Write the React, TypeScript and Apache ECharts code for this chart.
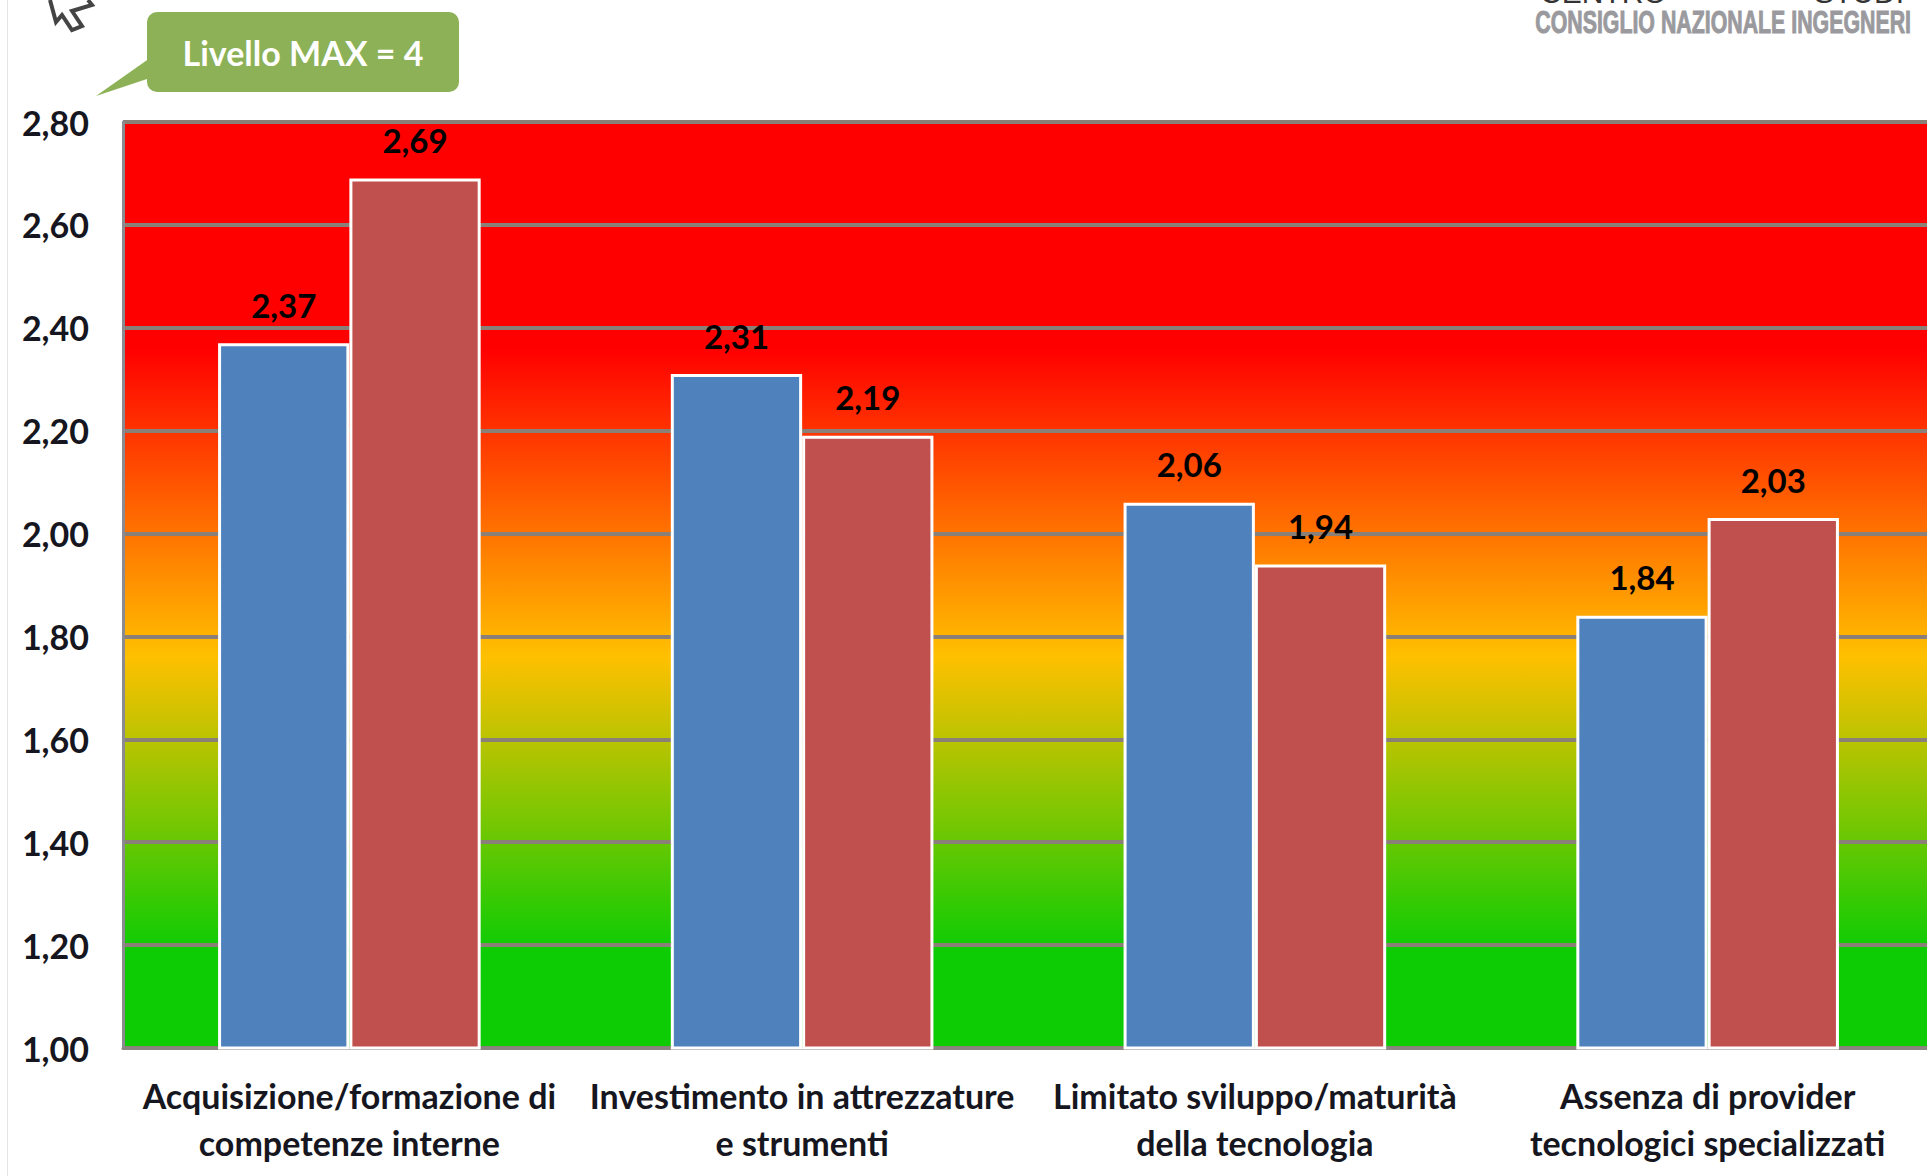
import React, { useEffect, useRef } from "react";
import * as echarts from "echarts";

const categories = [
  "Acquisizione/formazione di\ncompetenze interne",
  "Investimento in attrezzature\ne strumenti",
  "Limitato sviluppo/maturità\ndella tecnologia",
  "Assenza di provider\ntecnologici specializzati",
];
const seriesA = [2.37, 2.31, 2.06, 1.84];
const seriesB = [2.69, 2.19, 1.94, 2.03];
const FONT = "Lato, 'Noto Sans', sans-serif";
const fmt = (v: number) => v.toFixed(2).replace(".", ",");

export default function App() {
  const ref = useRef<HTMLDivElement>(null);
  useEffect(() => {
    document.body.style.margin = "0";
    document.body.style.overflow = "hidden";
    const chart = echarts.init(ref.current!, null, { renderer: "svg" });
    const label = {
      show: true,
      position: "top" as const,
      distance: 22,
      fontFamily: FONT,
      fontSize: 33,
      fontWeight: 700,
      color: "#000",
      formatter: (p: any) => fmt(p.value),
    };
    const barStyle = { borderColor: "#fff", borderWidth: 3 };
    chart.setOption({
      animation: false,
      backgroundColor: "#fff",
      grid: {
        show: true,
        left: 123,
        top: 122,
        right: 0,
        height: 926,
        borderWidth: 0,
        backgroundColor: new echarts.graphic.LinearGradient(0, 1, 0, 0, [
          { offset: 0, color: "#0ecc04" },
          { offset: 0.107, color: "#0ecc04" },
          { offset: 0.423, color: "#ffc000" },
          { offset: 0.755, color: "#ff0000" },
          { offset: 1, color: "#ff0000" },
        ]),
      },
      xAxis: {
        type: "category",
        data: categories,
        axisTick: { show: false },
        axisLine: { lineStyle: { color: "#8a8580", width: 3 } },
        axisLabel: {
          interval: 0,
          fontFamily: FONT,
          fontSize: 34,
          fontWeight: 700,
          color: "#161620",
          margin: 24,
          lineHeight: 47,
        },
      },
      yAxis: {
        type: "value",
        min: 1,
        max: 2.8,
        interval: 0.2,
        axisLine: { show: true, lineStyle: { color: "#8a8a90", width: 3 } },
        axisTick: { show: false },
        splitLine: { lineStyle: { color: "#8a8078", width: 4 } },
        axisLabel: {
          fontFamily: FONT,
          fontSize: 34,
          fontWeight: 700,
          color: "#161620",
          margin: 34,
          verticalAlignMinLabel: "middle",
          verticalAlignMaxLabel: "middle",
          formatter: (v: number) => fmt(v),
        },
      },
      series: [
        { type: "bar", name: "A", data: seriesA, barGap: 0, barCategoryGap: "42%",
          itemStyle: { color: "#4f81bd", ...barStyle }, label },
        { type: "bar", name: "B", data: seriesB,
          itemStyle: { color: "#c0504d", ...barStyle }, label },
      ],
      graphic: [
        { type: "rect", left: 7, top: 0, shape: { width: 1, height: 1176 }, style: { fill: "#e4e4e4" } },
        { type: "polyline", shape: { points: [[50, 0], [56, 22], [62, 15], [72, 30], [82, 26], [72, 11], [92, 5], [88, 0]] },
          style: { fill: "#fff", stroke: "#444", lineWidth: 4 } },
        { type: "polygon", shape: { points: [[96, 96], [150, 58], [150, 78]] }, style: { fill: "#8cb156" } },
        { type: "rect", shape: { x: 147, y: 12, width: 312, height: 80, r: 10 }, style: { fill: "#8cb156" } },
        { type: "text", x: 303, y: 52, style: { text: "Livello MAX = 4", fill: "#fff", font: `700 34px ${FONT}`,
          align: "center", verticalAlign: "middle" } },
        { type: "text", x: 1911, y: 22, scaleX: 0.667, style: { text: "CONSIGLIO NAZIONALE INGEGNERI", fill: "#9a9a9e",
          stroke: "#9a9a9e", lineWidth: 1, font: `700 32px 'Liberation Sans', sans-serif`, align: "right", verticalAlign: "middle" } },
        { type: "text", x: 1540, y: 7, style: { text: "CENTRO", fill: "#333",
          font: `400 30px 'Liberation Sans', sans-serif`, align: "left", verticalAlign: "bottom", letterSpacing: 8 } },
        { type: "text", x: 1904, y: 7, style: { text: "STUDI", fill: "#333",
          font: `400 30px 'Liberation Sans', sans-serif`, align: "right", verticalAlign: "bottom", letterSpacing: 7 } },
      ],
    });
    return () => chart.dispose();
  }, []);
  return (
    <div style={{ width: 1927, height: 1176, overflow: "hidden" }}>
      <div ref={ref} style={{ width: 1934, height: 1176 }} />
    </div>
  );
}
